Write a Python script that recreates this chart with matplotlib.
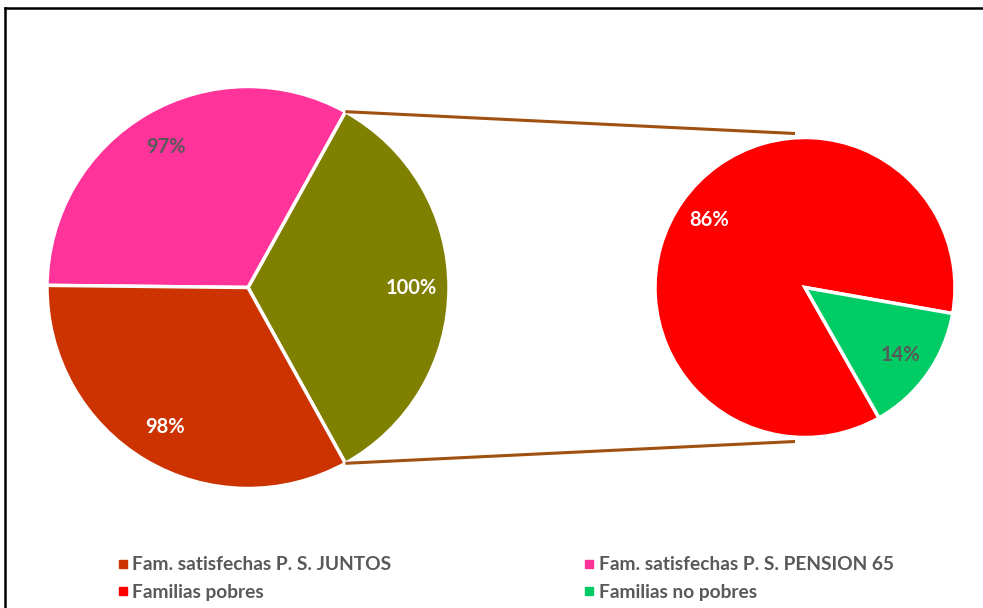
import numpy as np
import matplotlib
matplotlib.use("Agg")
import matplotlib.pyplot as plt
from matplotlib.lines import Line2D

plt.rcParams['font.family'] = ['Lato', 'DejaVu Sans']

# main pie
main_labels = ["Otros", "Fam. satisfechas P. S. PENSION 65", "Fam. satisfechas P. S. JUNTOS"]
main_values = [100, 97, 98]
main_text = ["100%", "97%", "98%"]
main_colors = ["#808000", "#FF3399", "#CC3300"]
main_text_colors = ["white", "#595959", "white"]

# second pie (detail of the olive slice)
sub_labels = ["Familias pobres", "Familias no pobres"]
sub_values = [86, 14]
sub_text = ["86%", "14%"]
sub_colors = ["#FF0000", "#00CC66"]
sub_text_colors = ["white", "#595959"]

W, H = 983, 608
fig = plt.figure(figsize=(W / 100, H / 100), dpi=100)
ax = fig.add_axes([0, 0, 1, 1])

c1 = (248, H - 287.5)
r1 = 201
c2 = (805, H - 287.5)
r2 = 150

start1 = -0.5 * 360 * main_values[0] / sum(main_values)
w1, _ = ax.pie(main_values, colors=main_colors, center=c1, radius=r1,
               startangle=start1, counterclock=True,
               wedgeprops=dict(edgecolor="white", linewidth=2.5))
w2, _ = ax.pie(sub_values, colors=sub_colors, center=c2, radius=r2,
               startangle=-10, counterclock=True,
               wedgeprops=dict(edgecolor="white", linewidth=2.5))


def put_labels(wedges, texts, tcolors, center, radius, frac):
    for w, t, col in zip(wedges, texts, tcolors):
        a = np.deg2rad((w.theta1 + w.theta2) / 2)
        x = center[0] + frac * radius * np.cos(a)
        y = center[1] + frac * radius * np.sin(a)
        ax.text(x, y, t, ha="center", va="center", color=col,
                fontsize=14.5, fontweight="bold")


put_labels(w1, main_text, main_text_colors, c1, r1, 0.81)
put_labels(w2, sub_text, sub_text_colors, c2, r2, 0.78)

# connector lines from the olive slice to the second pie
ow = w1[0]
for ang, sgn in [(ow.theta2, 1), (ow.theta1, -1)]:
    a = np.deg2rad(ang)
    x0 = c1[0] + r1 * np.cos(a)
    y0 = c1[1] + r1 * np.sin(a)
    x1 = c2[0] - 10
    y1 = c2[1] + sgn * (r2 + 4)
    ax.plot([x0, x1], [y0, y1], color="#A0500F", linewidth=2.2,
            solid_capstyle="butt")

ax.set_xlim(0, W)
ax.set_ylim(0, H)
ax.set_aspect("auto")
ax.axis("off")

# chart border (top and left visible)
fig.add_artist(Line2D([5 / W, 1], [1 - 8 / H, 1 - 8 / H], color="black",
                      linewidth=1.8, transform=fig.transFigure))
fig.add_artist(Line2D([5 / W, 5 / W], [0, 1 - 8 / H], color="black",
                      linewidth=1.8, transform=fig.transFigure))

handles = [
    Line2D([], [], marker="s", linestyle="", color=main_colors[2], markersize=6),
    Line2D([], [], marker="s", linestyle="", color=sub_colors[0], markersize=6),
    Line2D([], [], marker="s", linestyle="", color=main_colors[1], markersize=6),
    Line2D([], [], marker="s", linestyle="", color=sub_colors[1], markersize=6),
]
names = [main_labels[2], sub_labels[0], main_labels[1], sub_labels[1]]
leg = fig.legend(handles, names, ncol=2, loc="upper left",
                 bbox_to_anchor=(98 / W, 1 - 539 / H), frameon=False,
                 prop=dict(size=13.8, weight="bold"), handletextpad=0.1,
                 handlelength=0.8, columnspacing=9.9, labelspacing=0.55)
for t in leg.get_texts():
    t.set_color("#595959")

fig.savefig("out.png", dpi=100)
